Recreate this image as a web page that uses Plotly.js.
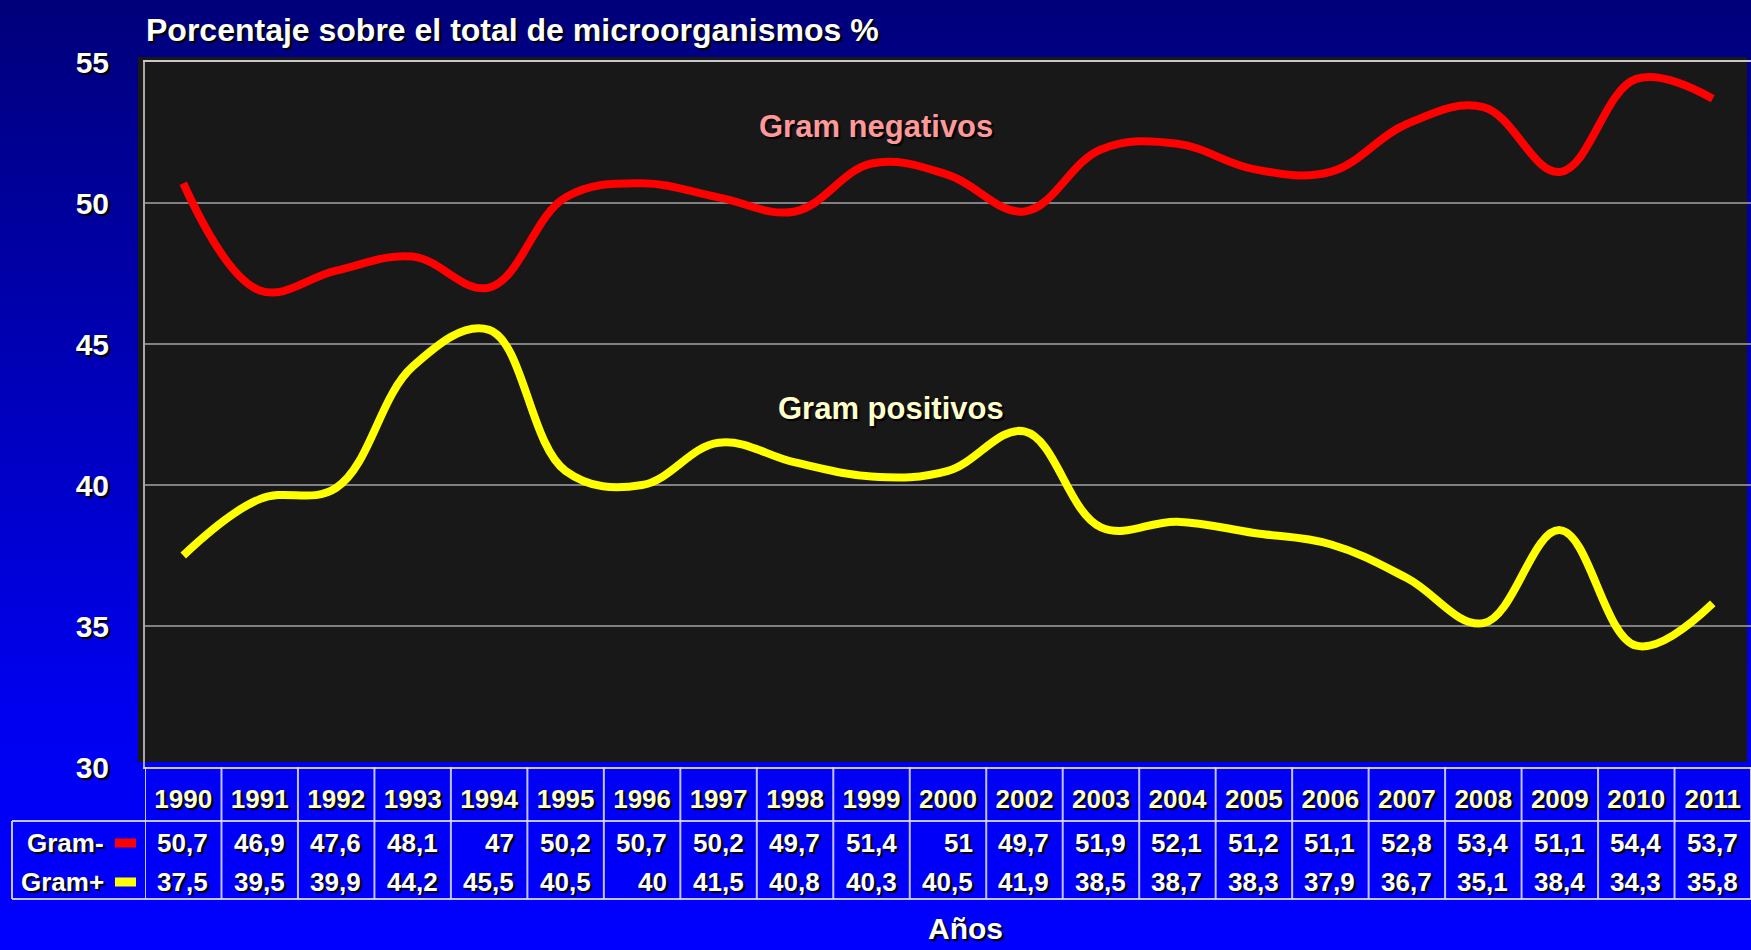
<!DOCTYPE html>
<html>
<head>
<meta charset="utf-8">
<script src="https://cdn.plot.ly/plotly-3.0.1.min.js"></script>
<style>
  html, body { margin: 0; padding: 0; width: 1751px; height: 950px; overflow: hidden;
    background: linear-gradient(to bottom, #00007a 0%, #0000b8 40%, #0000f0 75%, #0000ff 100%); }
  #chart { width: 1751px; height: 950px; }
</style>
</head>
<body>
<div id="chart"></div>
<script>
const years = ['1990','1991','1992','1993','1994','1995','1996','1997','1998','1999','2000',
               '2002','2003','2004','2005','2006','2007','2008','2009','2010','2011'];
const gramNeg = [50.7,46.9,47.6,48.1,47,50.2,50.7,50.2,49.7,51.4,51,49.7,51.9,52.1,51.2,51.1,52.8,53.4,51.1,54.4,53.7];
const gramPos = [37.5,39.5,39.9,44.2,45.5,40.5,40,41.5,40.8,40.3,40.5,41.9,38.5,38.7,38.3,37.9,36.7,35.1,38.4,34.3,35.8];
const yTicks = [30,35,40,45,50,55];
const rowLabels = ['Gram-','Gram+'];
const rowColors = ['#ff0000','#ffff00'];
const titleText = 'Porcentaje sobre el total de microorganismos %';
const xTitleText = 'Años';
const seriesLabels = ['Gram negativos','Gram positivos'];

const FONT = 'Arial, "Liberation Sans", Helvetica, sans-serif';
const SHADOW = '2px 2px 1px #000000';
const fmt = v => String(v).replace('.', ',');

const idx = years.map((_, i) => i);

const traces = [
  { x: idx, y: gramNeg, type: 'scatter', mode: 'lines', name: 'Gram-',
    line: { color: rowColors[0], width: 8, shape: 'spline', smoothing: 1.1 }, hoverinfo: 'skip' },
  { x: idx, y: gramPos, type: 'scatter', mode: 'lines', name: 'Gram+',
    line: { color: rowColors[1], width: 8, shape: 'spline', smoothing: 1.1 }, hoverinfo: 'skip' }
];

// table geometry in paper coords (plot area: x 145..1751, y 62..767)
const rowY = [-0.1078, -0.1631];
const headBottom = -0.0766;
const tableBottom = -0.1872;
const tableLeft = -0.0828;
const lineStyle = { color: 'rgba(215,215,255,0.9)', width: 2 };

const shapes = [];
// dark plot panel
shapes.push({ type: 'rect', xref: 'paper', yref: 'paper', x0: -0.0044, x1: 0.9975, y0: 0.0071, y1: 1.0071,
  fillcolor: '#181818', line: { width: 0 }, layer: 'below' });
// vertical table lines
for (let i = 0; i <= years.length; i++) {
  shapes.push({ type: 'line', xref: 'x', yref: 'paper', x0: i - 0.5, x1: i - 0.5, y0: 0, y1: tableBottom, line: lineStyle });
}
shapes.push({ type: 'line', xref: 'paper', yref: 'paper', x0: tableLeft, x1: 1, y0: headBottom, y1: headBottom, line: lineStyle });
shapes.push({ type: 'line', xref: 'paper', yref: 'paper', x0: tableLeft, x1: 1, y0: tableBottom, y1: tableBottom, line: lineStyle });
shapes.push({ type: 'line', xref: 'paper', yref: 'paper', x0: tableLeft, x1: tableLeft, y0: headBottom, y1: tableBottom, line: lineStyle });
// legend swatches
rowColors.forEach((c, r) => {
  shapes.push({ type: 'rect', xref: 'paper', yref: 'paper', x0: -0.0187, x1: -0.0056,
    y0: rowY[r] + 0.0064, y1: rowY[r] - 0.0064, fillcolor: c, line: { width: 0 } });
});

const annotations = [];
const series = [gramNeg, gramPos];
series.forEach((vals, r) => {
  vals.forEach((v, i) => {
    annotations.push({ x: i, y: rowY[r], xref: 'x', yref: 'paper', text: fmt(v), showarrow: false,
      xanchor: 'right', yanchor: 'middle', xshift: 27,
      font: { family: FONT, size: 26, color: '#ffffff', weight: 700, shadow: SHADOW } });
  });
  annotations.push({ x: -0.0243, y: rowY[r], xref: 'paper', yref: 'paper', text: rowLabels[r], showarrow: false,
    xanchor: 'right', yanchor: 'middle',
    font: { family: FONT, size: 26, color: '#ffffff', weight: 700, shadow: SHADOW } });
});
annotations.push({ x: 0.4552, y: 0.9092, xref: 'paper', yref: 'paper', text: seriesLabels[0], showarrow: false,
  xanchor: 'center', yanchor: 'middle',
  font: { family: FONT, size: 31, color: '#ff9999', weight: 700, shadow: '2px 2px 1px #000000' } });
annotations.push({ x: 0.4645, y: 0.5092, xref: 'paper', yref: 'paper', text: seriesLabels[1], showarrow: false,
  xanchor: 'center', yanchor: 'middle',
  font: { family: FONT, size: 31, color: '#ffffcc', weight: 700, shadow: '2px 2px 1px #000000' } });
annotations.push({ x: 0.5112, y: -0.229, xref: 'paper', yref: 'paper', text: xTitleText, showarrow: false,
  xanchor: 'center', yanchor: 'middle',
  font: { family: FONT, size: 30, color: '#ffffff', weight: 700, shadow: SHADOW } });

const layout = {
  width: 1751, height: 950,
  margin: { l: 145, r: 0, t: 62, b: 183, pad: 0 },
  paper_bgcolor: 'rgba(0,0,0,0)',
  plot_bgcolor: 'rgba(0,0,0,0)',
  showlegend: false,
  title: { text: titleText, x: 146 / 1751, xanchor: 'left', xref: 'container',
    y: 1 - 30 / 950, yanchor: 'middle', yref: 'container',
    font: { family: FONT, size: 32, color: '#ffffff', weight: 700, shadow: SHADOW } },
  xaxis: {
    range: [-0.5, years.length - 0.5],
    tickvals: idx, ticktext: years,
    showgrid: false, zeroline: false,
    showline: true, mirror: true, linecolor: '#c8c8c8', linewidth: 2,
    ticks: '', ticklabelstandoff: 8,
    tickfont: { family: FONT, size: 26, color: '#ffffcc', weight: 700, shadow: SHADOW },
    fixedrange: true
  },
  yaxis: {
    range: [30, 55],
    tickvals: yTicks, ticktext: yTicks.map(String),
    showgrid: true, gridcolor: '#808080', gridwidth: 1.5,
    zeroline: false,
    showline: true, linecolor: '#a8a8a8', linewidth: 2,
    ticks: '', ticklabelstandoff: 28,
    tickfont: { family: FONT, size: 30, color: '#ffffff', weight: 700, shadow: SHADOW },
    fixedrange: true
  },
  shapes: shapes,
  annotations: annotations
};

Plotly.newPlot('chart', traces, layout, { displayModeBar: false, staticPlot: true });
</script>
</body>
</html>
